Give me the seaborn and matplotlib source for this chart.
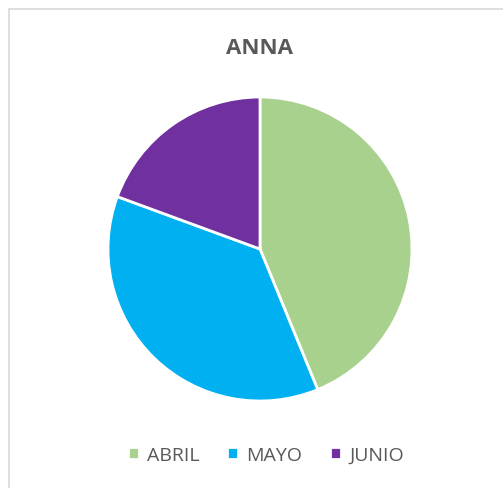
import matplotlib
matplotlib.use('Agg')
import matplotlib.pyplot as plt
import seaborn as sns
from matplotlib.patches import Rectangle

sns.set_theme(style='white')
plt.rcParams['font.family'] = ['Open Sans', 'DejaVu Sans']

# data
months = ['ABRIL', 'MAYO', 'JUNIO']
values = [43.8, 36.8, 19.4]
colors = ['#A9D18E', '#00B0F0', '#7030A0']

fig = plt.figure(figsize=(5.03, 4.89), dpi=100)
W, H = 503, 489

# chart frame (only left and top visible in the crop)
fig.patches.append(Rectangle((9 / W, -0.1), 1.2, (489 - 10) / H + 0.1,
                             transform=fig.transFigure, fill=False,
                             edgecolor='#D9D9D9', linewidth=1.2))

cx, cy, r = 260, 250, 152
ax = fig.add_axes([(cx - r) / W, (H - cy - r) / H, 2 * r / W, 2 * r / H])
wedges, _ = ax.pie(values, colors=colors, startangle=90, counterclock=False,
                   radius=1, wedgeprops=dict(edgecolor='white', linewidth=2))
ax.set_xlim(-1, 1)
ax.set_ylim(-1, 1)
ax.set_aspect('equal')
ax.axis('off')

fig.text(260 / W, 1 - 48 / H, 'ANNA', ha='center', va='center',
         fontsize=16, fontweight='bold', color='#595959')

fig.legend(wedges, months, loc='center', bbox_to_anchor=(266 / W, 1 - 456 / H),
           ncol=3, frameon=False, fontsize=14, labelcolor='#595959',
           handlelength=0.55, handleheight=0.55, handletextpad=0.45,
           columnspacing=1.4)

fig.savefig('out.png', dpi=100, facecolor='white')
